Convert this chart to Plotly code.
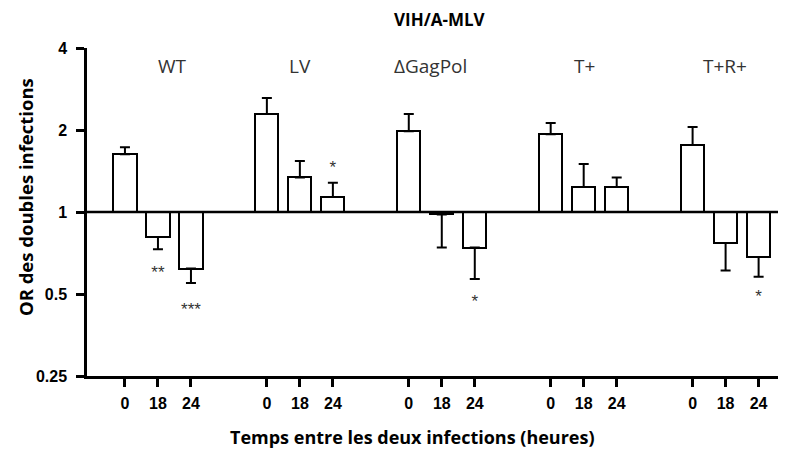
"""Odds ratio des doubles infections VIH/A-MLV selon le délai entre infections."""

import math

import plotly.graph_objects as go

groups = ["WT", "LV", "\u0394GagPol", "T+", "T+R+"]
delays = ["0", "18", "24"]

# OR moyen par groupe (0, 18, 24 h)
or_values = [
    [1.63, 0.81, 0.62],
    [2.29, 1.34, 1.135],
    [1.98, 0.98, 0.74],
    [1.93, 1.235, 1.235],
    [1.76, 0.77, 0.684],
]
# extrémité de la barre d'erreur (vers le haut si OR > 1, vers le bas sinon)
err_ends = [
    [1.73, 0.73, 0.549],
    [2.62, 1.54, 1.28],
    [2.29, 0.74, 0.567],
    [2.12, 1.50, 1.34],
    [2.05, 0.61, 0.578],
]
# étoiles de significativité: (groupe, délai, texte, position y)
stars = [
    (0, 1, "**", 0.595),
    (0, 2, "***", 0.435),
    (1, 2, "*", 1.44),
    (2, 2, "*", 0.465),
    (4, 2, "*", 0.485),
]

GROUP_STEP = 4.3
X_RANGE = [-1.15, 20.03]

xs, heights, up, down, ticktext = [], [], [], [], []
for g, vals in enumerate(or_values):
    for j, v in enumerate(vals):
        xs.append(g * GROUP_STEP + j)
        heights.append(v - 1)
        e = err_ends[g][j]
        up.append(max(e - v, 0))
        down.append(max(v - e, 0))
        ticktext.append(delays[j])

fig = go.Figure()

# ligne de référence OR = 1
fig.add_trace(go.Scatter(
    x=X_RANGE, y=[1, 1], mode="lines",
    line=dict(color="black", width=2.5),
    hoverinfo="skip", showlegend=False,
))

fig.add_trace(go.Bar(
    x=xs,
    y=heights,
    base=[1] * len(xs),
    width=0.7,
    marker=dict(color="white", line=dict(color="black", width=2)),
    error_y=dict(type="data", symmetric=False, array=up, arrayminus=down,
                 color="black", thickness=2, width=5),
    showlegend=False,
))

fig.add_trace(go.Scatter(
    x=[g * GROUP_STEP + j for g, j, _, _ in stars],
    y=[y for _, _, _, y in stars],
    text=[t for _, _, t, _ in stars],
    mode="text",
    textfont=dict(family="Liberation Sans", size=17, color="#333"),
    showlegend=False,
))

label_offsets = [1.45, 1.0, 0.67, 1.03, 0.97]
for g, name in enumerate(groups):
    fig.add_annotation(x=g * GROUP_STEP + label_offsets[g], y=math.log10(3.45),
                       text=name, showarrow=False,
                       font=dict(family="Open Sans", size=19, color="#333"))

fig.add_annotation(x=0.505, y=1.0, xref="paper", yref="paper", yshift=29,
                   xanchor="center", yanchor="middle",
                   text="<b>VIH/A-MLV</b>", showarrow=False,
                   font=dict(family="Open Sans", size=17, color="black"))
fig.add_annotation(x=-0.087, y=0.546, xref="paper", yref="paper", textangle=-90,
                   xanchor="center", yanchor="middle",
                   text="<b>OR des doubles infections</b>", showarrow=False,
                   font=dict(family="Open Sans", size=18.5, color="black"))
fig.add_annotation(x=0.465, y=0, xref="paper", yref="paper", yshift=-61,
                   xanchor="center", yanchor="middle",
                   text="<b>Temps entre les deux infections (heures)</b>",
                   showarrow=False,
                   font=dict(family="Open Sans", size=18, color="black"))

# la page ajoute une marge de 8 px autour de la figure
fig.update_layout(
    width=778,
    height=442,
    margin=dict(l=79, r=0, t=40, b=74),
    plot_bgcolor="white",
    paper_bgcolor="white",
    bargap=0,
)
fig.update_xaxes(
    range=X_RANGE,
    tickvals=xs,
    ticktext=ticktext,
    ticks="outside",
    ticklen=8,
    tickwidth=2.5,
    tickcolor="black",
    ticklabelstandoff=3,
    showline=True,
    linecolor="black",
    linewidth=2.5,
    showgrid=False,
    zeroline=False,
    tickfont=dict(family="Liberation Sans", size=16, color="black", weight="bold"),
)
fig.update_yaxes(
    type="log",
    range=[math.log10(0.25), math.log10(4)],
    tickvals=[0.25, 0.5, 1, 2, 4],
    ticktext=["0.25", "0.5", "1", "2", "4"],
    ticks="outside",
    ticklen=8,
    tickwidth=2.5,
    tickcolor="black",
    ticklabelstandoff=6,
    showline=True,
    linecolor="black",
    linewidth=2.5,
    showgrid=False,
    zeroline=False,
    tickfont=dict(family="Liberation Sans", size=16, color="black", weight="bold"),
)

fig.write_html("out.html")
